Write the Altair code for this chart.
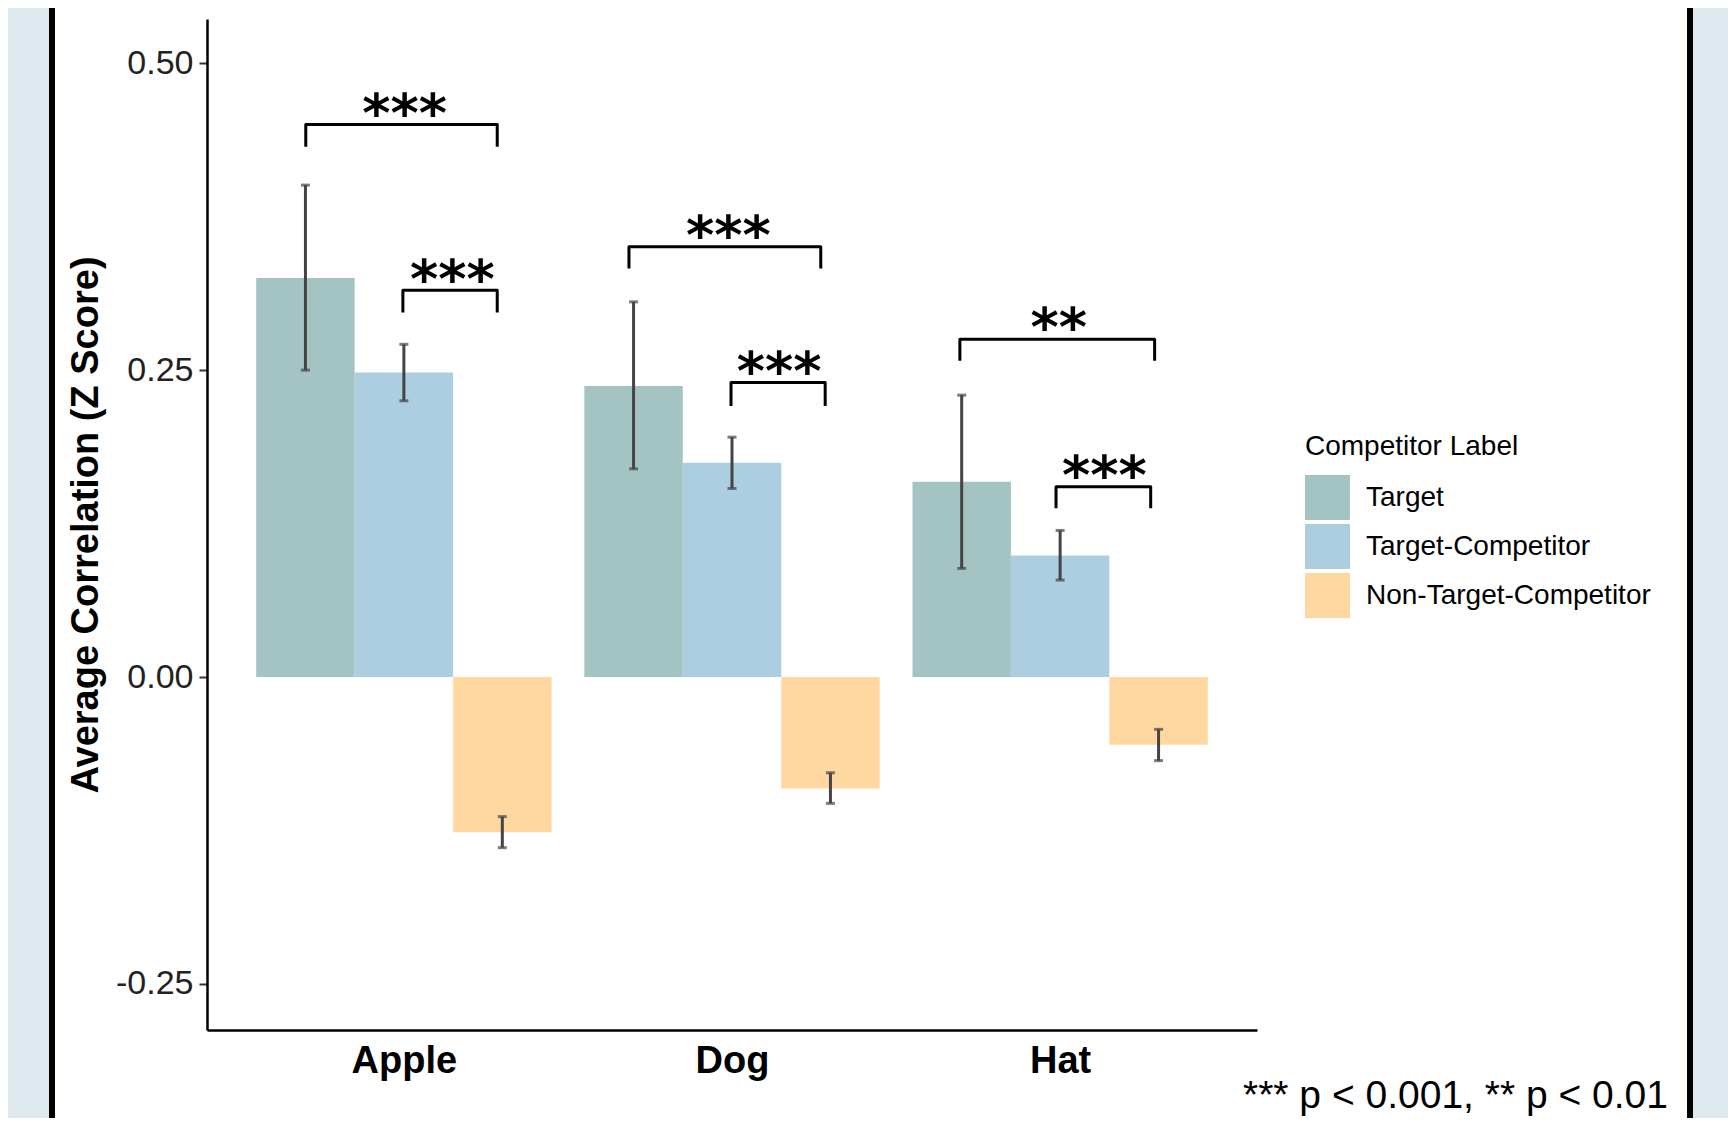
import altair as alt
import pandas as pd

# ---------------- data ----------------
categories = ["Apple", "Dog", "Hat"]
labels = ["Target", "Target-Competitor", "Non-Target-Competitor"]
colors = ["#a3c4c2", "#adcde0", "#fed8a0"]

mean_target = [0.325, 0.237, 0.159]
mean_tc = [0.248, 0.1745, 0.099]
mean_ntc = [-0.1265, -0.0907, -0.0551]

lo_target = [0.250, 0.1696, 0.0885]
hi_target = [0.4007, 0.3056, 0.2296]
lo_tc = [0.225, 0.1536, 0.079]
hi_tc = [0.271, 0.1954, 0.1194]
lo_ntc = [-0.139, -0.1029, -0.0681]
hi_ntc = [-0.1137, -0.078, -0.0426]

# significance brackets (x in category units: Apple=1, Dog=2, Hat=3)
bracket_from = [0.701, 0.997, 1.686, 1.997, 2.6945, 2.9875]
bracket_to = [1.2845, 1.2845, 2.2705, 2.284, 3.288, 3.276]
bracket_top = [0.450, 0.315, 0.3504, 0.240, 0.2752, 0.155]
bracket_leg = [0.432, 0.297, 0.3328, 0.2207, 0.2576, 0.1374]
star_text = ["***", "***", "***", "***", "**", "***"]
star_x = [1.0024, 1.1476, 1.989, 2.1436, 2.9957, 3.1348]
star_y = [0.466, 0.331, 0.3667, 0.2554, 0.292, 0.1713]

note = "*** p < 0.001, ** p < 0.01"
y_title = "Average Correlation (Z Score)"
legend_title = "Competitor Label"
y_ticks = [-0.25, 0.0, 0.25, 0.50]

# ---------------- tables ----------------
means = [mean_target, mean_tc, mean_ntc]
los = [lo_target, lo_tc, lo_ntc]
his = [hi_target, hi_tc, hi_ntc]
bar_w = 0.9 / len(labels)
rows = []
for gi, cat in enumerate(categories):
    for li, lab in enumerate(labels):
        center = gi + 1 + (li - 1) * bar_w
        rows.append(dict(category=cat, label=lab, xc=center,
                         x0=center - bar_w / 2, x1=center + bar_w / 2,
                         mean=means[li][gi], lo=los[li][gi], hi=his[li][gi]))
bars_df = pd.DataFrame(rows)
caps_df = pd.concat([
    bars_df[["xc", "lo"]].rename(columns={"lo": "yv"}),
    bars_df[["xc", "hi"]].rename(columns={"hi": "yv"}),
])

br_rows = []
for i in range(len(bracket_from)):
    pts = [(bracket_from[i], bracket_leg[i]), (bracket_from[i], bracket_top[i]),
           (bracket_to[i], bracket_top[i]), (bracket_to[i], bracket_leg[i])]
    for k, (bx, by) in enumerate(pts):
        br_rows.append(dict(bid=i, ord=k, bx=bx, by=by))
br_df = pd.DataFrame(br_rows)
stars_df = pd.DataFrame(dict(t=star_text, sx=star_x, sy=star_y))

one = pd.DataFrame({"a": [0]})

XDOM = [0.4, 3.6]
YDOM = [-0.2875, 0.536]
xscale = alt.Scale(domain=XDOM, nice=False, zero=False)
yscale = alt.Scale(domain=YDOM, nice=False, zero=False)

label_expr = "[" + ",".join("'%s'" % c for c in categories) + "][datum.value - 1]"

# ---------------- decorative frame (screenshot border) ----------------
panel = alt.Chart(one).mark_rect(color="white").encode(
    x=alt.value(-153), x2=alt.value(1480), y=alt.value(-19), y2=alt.value(1110))
border_l = alt.Chart(one).mark_rect(color="black").encode(
    x=alt.value(-158), x2=alt.value(-152), y=alt.value(-19), y2=alt.value(1110))
border_r = alt.Chart(one).mark_rect(color="black").encode(
    x=alt.value(1480), x2=alt.value(1486), y=alt.value(-19), y2=alt.value(1110))

# ---------------- marks ----------------
bars = alt.Chart(bars_df).mark_bar().encode(
    x=alt.X("x0:Q", scale=xscale,
            axis=alt.Axis(values=[1, 2, 3], labelExpr=label_expr, title=None,
                          ticks=False, grid=False, labelFontSize=38,
                          labelFontWeight="bold", labelColor="black",
                          labelPadding=12, domainColor="black", domainWidth=2.5,
                          labelFont="Liberation Sans", zindex=1)),
    x2="x1:Q",
    y=alt.Y("mean:Q", scale=yscale,
            axis=alt.Axis(values=y_ticks, title=y_title, grid=False,
                          labelExpr="replace(format(datum.value, '.2f'), '\u2212', '-')",
                          labelFontSize=34, labelColor="#222222", labelPadding=6,
                          tickSize=8, tickWidth=2, tickColor="#333333",
                          domainColor="black", domainWidth=2.5,
                          titleFontSize=38, titleFontWeight="bold",
                          titleColor="black", titlePadding=10,
                          labelFont="Liberation Sans", titleFont="Liberation Sans",
                          zindex=1)),
    y2=alt.datum(0),
    color=alt.Color("label:N", scale=alt.Scale(domain=labels, range=colors),
                    legend=alt.Legend(title=legend_title, orient="none",
                                      legendX=1098, legendY=414,
                                      titleFontSize=28, titleFontWeight="normal",
                                      titleColor="black", labelFontSize=28,
                                      labelColor="black", symbolType="square",
                                      symbolSize=2025, symbolStrokeWidth=0,
                                      symbolOpacity=1, rowPadding=4,
                                      labelOffset=16, titlePadding=14, padding=0,
                                      labelLimit=0, titleLimit=0,
                                      labelFont="Liberation Sans",
                                      titleFont="Liberation Sans")),
)

err = alt.Chart(bars_df).mark_rule(color="#444444", strokeWidth=3).encode(
    x=alt.X("xc:Q", scale=xscale), y=alt.Y("lo:Q", scale=yscale), y2="hi:Q")
caps = alt.Chart(caps_df).mark_tick(orient="horizontal", color="#444444",
                                    size=9, thickness=3).encode(
    x=alt.X("xc:Q", scale=xscale), y=alt.Y("yv:Q", scale=yscale))

brackets = alt.Chart(br_df).mark_line(color="black", strokeWidth=3,
                                      strokeJoin="round").encode(
    x=alt.X("bx:Q", scale=xscale), y=alt.Y("by:Q", scale=yscale),
    detail="bid:N", order="ord:Q")

stars = alt.Chart(stars_df).mark_text(font="DejaVu Sans", fontSize=54,
                                      fontWeight="bold", color="black",
                                      baseline="alphabetic", dy=27).encode(
    x=alt.X("sx:Q", scale=xscale), y=alt.Y("sy:Q", scale=yscale), text="t:N")

note_df = pd.DataFrame({"t": [note]})
note_mark = alt.Chart(note_df).mark_text(font="Liberation Sans", fontSize=39,
                                         color="black", align="right",
                                         baseline="alphabetic").encode(
    x=alt.value(1461), y=alt.value(1089), text="t:N")

chart = alt.layer(panel, border_l, border_r, bars, err, caps, brackets, stars,
                  note_mark).properties(
    width=1050, height=1011,
    autosize=alt.AutoSizeParams(type="none"),
    padding={"left": 199, "top": 11, "right": 471, "bottom": 88},
    background="#dee9f0",
).configure_view(stroke=None)

chart.save("out.html", embed_options={"renderer": "svg", "actions": False})
